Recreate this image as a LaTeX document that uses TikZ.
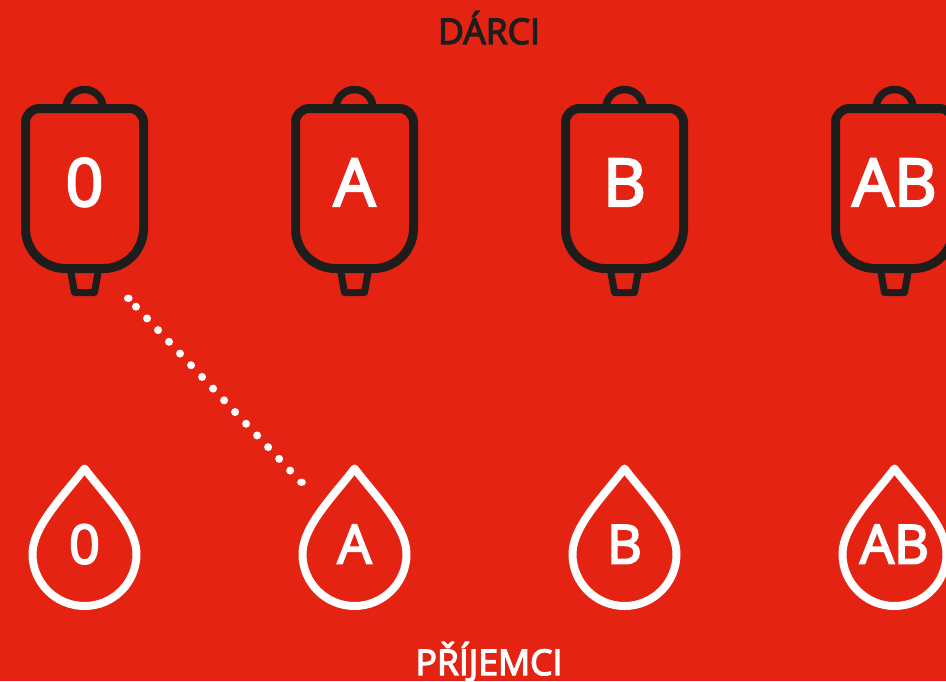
\documentclass[tikz,border=0pt]{standalone}
\usepackage{fontspec}
\setmainfont{Open Sans}
\newfontfamily\semi[FakeBold=3.5]{Open Sans}
\definecolor{bgred}{HTML}{E42313}
\definecolor{inkdark}{HTML}{1D1D1B}
\newcommand{\bag}[3]{%
  \begin{scope}[shift={(#1,0)}]
    \draw[bagline,line width=7.5pt] (-18.5,108) arc[start angle=180,end angle=360,radius=18.5];
    \draw[bagline,line width=7pt] (-14,270) -- (-10,292.5) -- (10,292.5) -- (14,270);
    \draw[bagline,fill=bgred] (-59,122.5) arc[start angle=180,end angle=270,radius=14] -- (45,108.5)
      arc[start angle=270,end angle=360,radius=14] -- (59,228.5)
      arc[start angle=0,end angle=90,radius=40] -- (-19,268.5)
      arc[start angle=90,end angle=180,radius=40] -- cycle;
    \node[bagtext] (#2) at (0,206) {#3};
  \end{scope}}
\newcommand{\dropshape}[3]{%
  \begin{scope}[shift={(#1,0)}]
    \draw[dropline] (0,468.5) .. controls (20,495) and (52,526) .. (52,554)
      arc[start angle=0,end angle=180,radius=52]
      .. controls (-52,526) and (-20,495) .. cycle;
    \node[droptext] (#2) at (0,563.5) {#3};
  \end{scope}}
\tikzset{
  bagline/.style={draw=inkdark,line width=9pt,line join=round},
  dropline/.style={draw=white,line width=8pt,line join=round},
  bagtext/.style={text=white,font=\semi\fontsize{66}{66}\selectfont,inner sep=0pt,anchor=base},
  droptext/.style={text=white,font=\semi\fontsize{54}{54}\selectfont,inner sep=0pt,anchor=base},
  titletext/.style={font=\semi\fontsize{35.5}{35.5}\selectfont,inner sep=0pt,anchor=base},
  dotline/.style={draw=white,line width=8pt,line cap=round,dash pattern=on 0pt off 16.07pt}
}
\begin{document}
\begin{tikzpicture}[x=1pt,y=-1pt]
\useasboundingbox (0,0) rectangle (946,681);
\fill[bgred] (0,0) rectangle (946,681);
\node[titletext,text=inkdark] (donors) at (489,44) {DÁRCI};
\node[titletext,text=white] (recipients) at (489,675) {PŘÍJEMCI};
\bag{84.5}{b0}{0}
\bag{354.5}{bA}{A}
\bag{624.5}{bB}{B}
\bag{894.5}{bAB}{AB}
\dropshape{84.5}{d0}{0}
\dropshape{354.5}{dA}{A}
\dropshape{624.5}{dB}{B}
\dropshape{894.5}{dAB}{AB}
\coordinate (dotstart) at (136,306.7);
\coordinate (dotend) at (290.2,470.6);
\draw[dotline] (dotstart) -- (dotend);
\fill[white] (128.3,298.3) ellipse[x radius=4.4,y radius=3.7];
\fill[white] (301.5,482.3) ellipse[x radius=4.4,y radius=3.7];
\end{tikzpicture}
\end{document}
